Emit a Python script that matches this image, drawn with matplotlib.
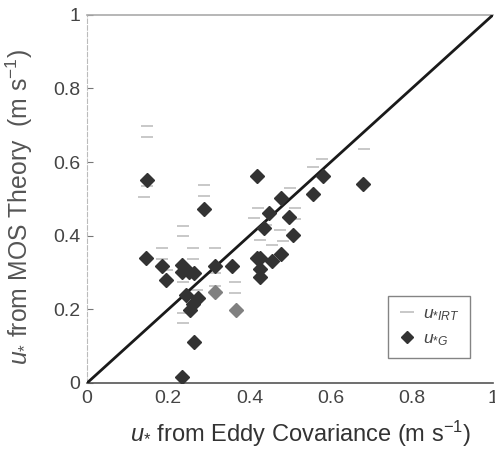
import matplotlib
matplotlib.use("Agg")
import matplotlib.pyplot as plt
from matplotlib.lines import Line2D

plt.rcParams['font.family'] = ['Liberation Sans', 'DejaVu Sans']
plt.rcParams['mathtext.fontset'] = 'custom'
plt.rcParams['mathtext.it'] = 'Liberation Sans:italic'
plt.rcParams['mathtext.rm'] = 'Liberation Sans'

# u*G (dark diamonds)
g_x = [0.147, 0.144, 0.184, 0.195, 0.287, 0.234, 0.233, 0.250, 0.264, 0.244,
       0.273, 0.262, 0.254, 0.264, 0.233, 0.315, 0.356, 0.418, 0.418, 0.426,
       0.426, 0.426, 0.437, 0.448, 0.456, 0.477, 0.477, 0.498, 0.508, 0.557,
       0.580, 0.679]
g_y = [0.552, 0.340, 0.319, 0.280, 0.473, 0.321, 0.302, 0.302, 0.300, 0.239,
       0.232, 0.215, 0.198, 0.110, 0.017, 0.319, 0.319, 0.563, 0.340, 0.340,
       0.309, 0.289, 0.420, 0.461, 0.330, 0.502, 0.350, 0.452, 0.402, 0.513,
       0.561, 0.541]
# u*G (lighter grey diamonds)
g2_x = [0.315, 0.366]
g2_y = [0.248, 0.198]

# u*IRT (light grey dashes)
irt_x = [0.147, 0.147, 0.139, 0.147, 0.287, 0.287, 0.237, 0.237, 0.185, 0.185,
         0.196, 0.262, 0.262, 0.315, 0.315, 0.237, 0.315, 0.365, 0.365, 0.270,
         0.237, 0.237, 0.422, 0.410, 0.475, 0.483, 0.426, 0.455, 0.500, 0.512,
         0.557, 0.578, 0.681, 0.440, 0.512]
irt_y = [0.698, 0.667, 0.504, 0.535, 0.538, 0.508, 0.427, 0.398, 0.366, 0.336,
         0.307, 0.366, 0.336, 0.366, 0.300, 0.275, 0.264, 0.275, 0.244, 0.253,
         0.189, 0.164, 0.475, 0.447, 0.416, 0.386, 0.389, 0.375, 0.529, 0.475,
         0.586, 0.608, 0.636, 0.430, 0.445]

x_ticks = [0, 0.2, 0.4, 0.6, 0.8, 1]
x_tick_labels = ['0', '0.2', '0.4', '0.6', '0.8', '1']
y_ticks = [0, 0.2, 0.4, 0.6, 0.8, 1]
y_tick_labels = ['0', '0.2', '0.4', '0.6', '0.8', '1']

fig = plt.figure(figsize=(4.95, 4.5), dpi=100)
ax = fig.add_axes([0.176, 0.149, 0.820, 0.818])

ax.plot(irt_x, irt_y, linestyle='none', marker='_', ms=9, mew=1.3,
        color='#c4c4c4', zorder=2)
ax.plot([0, 1], [0, 1], color='#1a1a1a', lw=2.0, zorder=3)
ax.plot(g_x, g_y, linestyle='none', marker='D', ms=6.8, color='#333333',
        mec='#333333', zorder=4)
ax.plot(g2_x, g2_y, linestyle='none', marker='D', ms=6.8, color='#808080',
        mec='#808080', zorder=4)

ax.set_xlim(0, 1)
ax.set_ylim(0, 1)
ax.set_xticks(x_ticks)
ax.set_xticklabels(x_tick_labels)
ax.set_yticks(y_ticks)
ax.set_yticklabels(y_tick_labels)
ax.tick_params(axis='both', direction='in', length=4, color='#777777',
               labelcolor='#444444', labelsize=14)
ax.tick_params(axis='x', length=0, pad=5)
ax.tick_params(axis='y', pad=5)

ax.spines['right'].set_visible(False)
ax.spines['top'].set_color('#aaaaaa')
ax.spines['top'].set_linewidth(1.2)
ax.spines['left'].set_color('#bbbbbb')
ax.spines['left'].set_linestyle((0, (4, 2)))
ax.spines['bottom'].set_color('#555555')
ax.spines['bottom'].set_linewidth(1.2)

ax.set_xlabel(r'$u_{*}$ from Eddy Covariance (m s$^{\mathregular{-1}}$)',
              fontsize=17, color='#333333')
ax.set_ylabel(r'$u_{*}$ from MOS Theory  (m s$^{\mathregular{-1}}$)',
              fontsize=17.8, color='#555555')
ax.xaxis.set_label_coords(0.525, -0.098)
ax.yaxis.set_label_coords(-0.128, 0.478)

handles = [Line2D([], [], linestyle='none', marker='_', ms=10, mew=1.3, color='#c4c4c4'),
           Line2D([], [], linestyle='none', marker='D', ms=6.5, color='#333333')]
leg = ax.legend(handles, [r'$u_{*IRT}$', r'$u_{*G}$'], loc='lower right',
                bbox_to_anchor=(0.943, 0.068), borderaxespad=0, fontsize=12.5,
                frameon=True, fancybox=False, edgecolor='#666666',
                handlelength=1.0, handletextpad=0.4, borderpad=0.6,
                labelspacing=0.45)
leg.get_frame().set_linewidth(1.0)
for t in leg.get_texts():
    t.set_color('#444444')

fig.savefig('out.png', dpi=100)
